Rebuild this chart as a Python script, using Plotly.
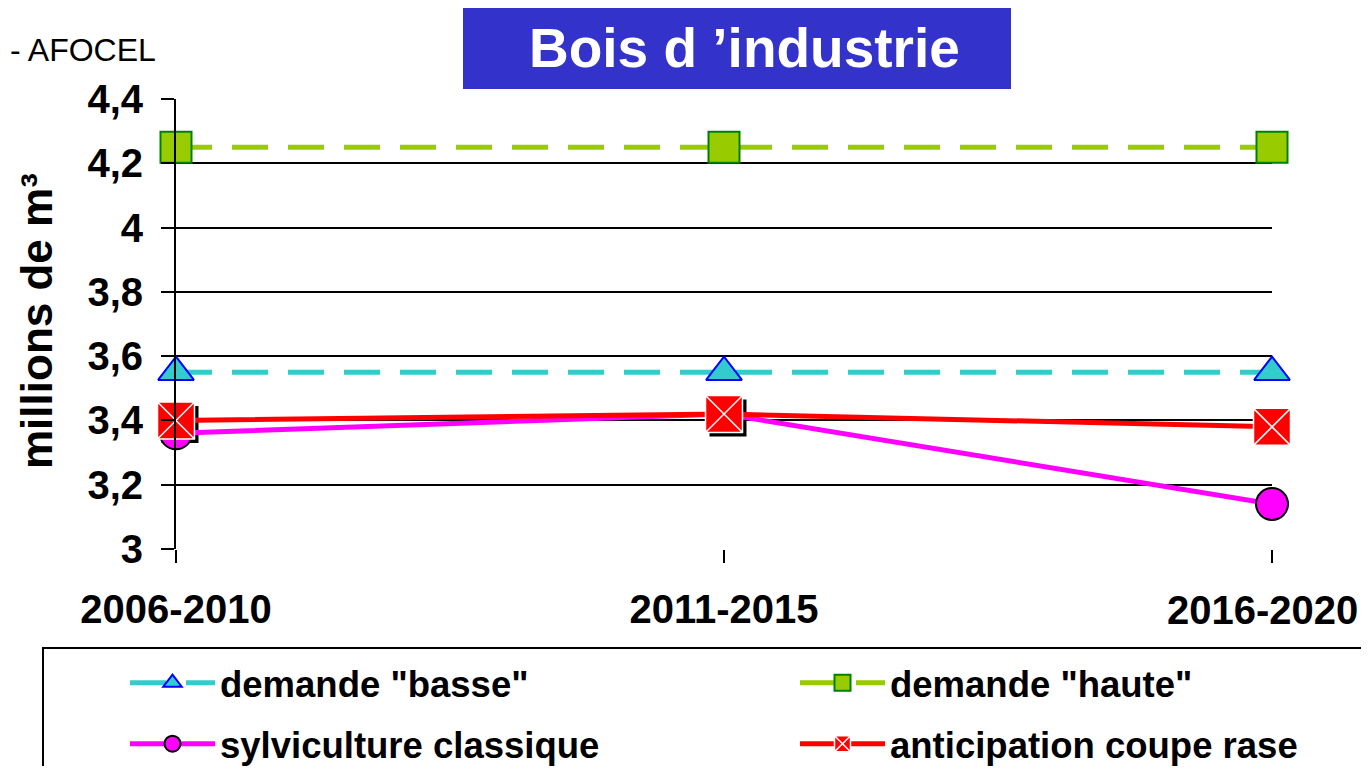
import plotly.graph_objects as go

periods = ["2006-2010", "2011-2015", "2016-2020"]
basse = [3.55, 3.55, 3.55]
haute = [4.25, 4.25, 4.25]
sylviculture = [3.36, 3.42, 3.14]
anticipation = [3.40, 3.42, 3.38]

FONT = "Liberation Sans, Arial, sans-serif"
PAD = 8  # page body margin of the browser
W, H = 1369 - PAD, 774 - 2 * PAD
x0p, x1p, y0p, y1p = 176, 1272, 99, 549  # plot area in screen pixels
pw, ph = x1p - x0p, y1p - y0p
L, T = x0p - PAD, y0p - PAD
R, B = W - L - pw, H - T - ph


def px_x(x):
    return (x - x0p) / pw


def px_y(y):
    return (y1p - y) / ph


fig = go.Figure()

# drop shadow under the red squares (base axes, range shifted a few px)
fig.add_trace(go.Scatter(
    x=periods, y=anticipation, mode="markers", xaxis="x", yaxis="y",
    marker=dict(symbol="square", size=37, color="black", line=dict(width=0)),
    showlegend=False, hoverinfo="skip", cliponaxis=False,
))

fig.add_trace(go.Scatter(
    x=periods, y=basse, name='demande "basse"', xaxis="x2", yaxis="y2",
    mode="lines+markers", cliponaxis=False, legend="legend",
    line=dict(color="#33CCCC", width=5, dash="36px,20px"),
    marker=dict(symbol="triangle-up", size=31, color="#33CCCC",
                line=dict(color="#0000FF", width=2)),
))
fig.add_trace(go.Scatter(
    x=periods, y=haute, name='demande "haute"', xaxis="x2", yaxis="y2",
    mode="lines+markers", cliponaxis=False, legend="legend2",
    line=dict(color="#99CC00", width=5, dash="36px,20px"),
    marker=dict(symbol="square", size=31, color="#99CC00",
                line=dict(color="#008000", width=2)),
))
fig.add_trace(go.Scatter(
    x=periods, y=sylviculture, name="sylviculture classique", xaxis="x2", yaxis="y2",
    mode="lines+markers", cliponaxis=False, legend="legend3",
    line=dict(color="#FF00FF", width=5),
    marker=dict(symbol="circle", size=32, color="#FF00FF",
                line=dict(color="black", width=2)),
))
fig.add_trace(go.Scatter(
    x=periods, y=anticipation, name="anticipation coupe rase", xaxis="x2", yaxis="y2",
    mode="lines+markers", cliponaxis=False, legend="legend4",
    line=dict(color="#FF0000", width=5),
    marker=dict(symbol="square-x", size=37, color="#FF0000",
                line=dict(color="white", width=1.5)),
))

sx = 4 / pw * 2
sy = 4 / ph * 1.4
tickfont = dict(family=FONT, size=40, color="black", weight="bold")
legfont = dict(family=FONT, size=36.5, color="black", weight="bold")


def leg(xp, yp):
    return dict(
        xref="container", yref="container",
        x=(xp - PAD) / W, y=1 - (yp - PAD) / H, xanchor="left", yanchor="middle",
        itemwidth=85, font=legfont, bgcolor="rgba(0,0,0,0)", borderwidth=0,
    )


# the last period label is pulled inside the right edge, like the original
xticktext = periods[:-1] + [""]

fig.update_layout(
    width=W, height=H,
    margin=dict(l=L, r=R, t=T, b=B, autoexpand=False),
    paper_bgcolor="white", plot_bgcolor="white",
    separators=", ",
    xaxis=dict(type="category", range=[-sx, 2 - sx], visible=False),
    yaxis=dict(range=[3 + sy, 4.4 + sy], visible=False),
    xaxis2=dict(
        type="category", overlaying="x", range=[0, 2], showgrid=False,
        tickvals=periods, ticktext=xticktext,
        showline=False, ticks="outside", ticklen=13, tickwidth=2, tickcolor="black",
        tickfont=tickfont, zeroline=False, ticklabelstandoff=12,
    ),
    yaxis2=dict(
        overlaying="y", range=[3, 4.4], tickvals=[3, 3.2, 3.4, 3.6, 3.8, 4, 4.2, 4.4],
        showgrid=True, gridcolor="black", gridwidth=2, zeroline=False,
        showline=True, linecolor="black", linewidth=2,
        ticks="outside", ticklen=13, tickwidth=2, tickcolor="black",
        tickfont=tickfont, ticklabelstandoff=10,
    ),
    legend=leg(125, 683),
    legend2=leg(795, 683),
    legend3=leg(125, 744),
    legend4=leg(795, 744),
    showlegend=True,
)

fig.add_annotation(text=periods[-1], xref="paper", yref="paper",
                   x=px_x(1360), y=px_y(610), xanchor="right", yanchor="middle",
                   showarrow=False, font=tickfont)

# legend frame (runs off the right and bottom edges)
fig.add_shape(type="rect", xref="paper", yref="paper",
              x0=px_x(43), x1=px_x(1400), y0=px_y(648), y1=px_y(800),
              line=dict(color="black", width=2), fillcolor="rgba(0,0,0,0)")

# title box
fig.add_shape(type="rect", xref="paper", yref="paper",
              x0=px_x(463), x1=px_x(1011), y0=px_y(89), y1=px_y(7),
              line=dict(width=0), fillcolor="#3333CC")
fig.add_annotation(text="Bois d ’industrie", xref="paper", yref="paper",
                   x=px_x(744), y=px_y(48), xanchor="center", yanchor="middle",
                   showarrow=False,
                   font=dict(family=FONT, size=55, color="white", weight="bold"))

fig.add_annotation(text="- AFOCEL", xref="paper", yref="paper",
                   x=px_x(8), y=px_y(50), xanchor="left", yanchor="middle",
                   showarrow=False,
                   font=dict(family=FONT, size=32, color="black"))

fig.add_annotation(text="millions de m³", xref="paper", yref="paper",
                   x=px_x(36), y=px_y(321), xanchor="center", yanchor="middle",
                   textangle=-90, showarrow=False,
                   font=dict(family=FONT, size=44, color="black", weight="bold"))

fig.write_html("out.html")
